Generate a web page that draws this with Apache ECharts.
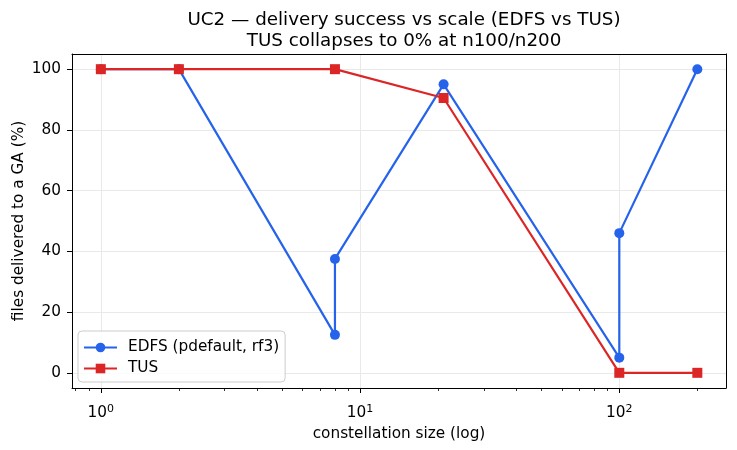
<!DOCTYPE html>
<html>
<head>
<meta charset="utf-8">
<script src="https://cdn.jsdelivr.net/npm/echarts@6/dist/echarts.min.js"></script>
<style>
  html, body { margin: 0; padding: 0; background: #fff; }
  #chart { width: 737px; height: 450px; }
</style>
</head>
<body>
<div id="chart"></div>
<script>
// constellation sizes and delivery success (%)
const edfsX = [1, 2, 8, 8, 21, 100, 100, 200]
const edfsY = [100, 100, 12.5, 37.5, 95, 5, 46, 100]
const tusX = [1, 2, 8, 21, 100, 200]
const tusY = [100, 100, 100, 90.5, 0, 0]

// minor ticks of the log axis
const minorTicks = [0.8, 0.9, 2, 3, 4, 5, 6, 7, 8, 9, 20, 30, 40, 50, 60, 70, 80, 90, 200]

const font = 'DejaVu Sans'
const blue = '#2563eb'
const red = '#dc2626'
const xMin = 0.774
const xMax = 258

let chart = echarts.init(document.getElementById('chart'))

let pairs = (xs, ys) => xs.map((x, i) => [x, ys[i]])

// bare axes that only draw the top and right frame lines
let frameX = {
    type: 'log', min: xMin, max: xMax, position: 'top',
    axisLine: { show: true, onZero: false, lineStyle: { color: '#000', width: 1 } },
    axisTick: { show: false }, axisLabel: { show: false }, splitLine: { show: false }
}
let frameY = {
    type: 'value', min: -5, max: 105, position: 'right',
    axisLine: { show: true, onZero: false, lineStyle: { color: '#000', width: 1 } },
    axisTick: { show: false }, axisLabel: { show: false }, splitLine: { show: false }
}

let option = {
    animation: false,
    title: {
        text: 'UC2 \u2014 delivery success vs scale (EDFS vs TUS)\nTUS collapses to 0% at n100/n200',
        left: 399,
        top: 5,
        textAlign: 'center',
        textStyle: {
            fontFamily: font,
            fontSize: 18.3,
            fontWeight: 'normal',
            color: '#000',
            lineHeight: 21
        }
    },
    grid: {
        left: 72,
        right: 11,
        top: 54,
        bottom: 62,
        show: false
    },
    legend: {
        orient: 'vertical',
        left: 78,
        top: 331,
        padding: [9, 6, 6, 5],
        itemGap: 6,
        itemWidth: 33,
        itemHeight: 12,
        backgroundColor: 'rgba(255,255,255,0.8)',
        borderColor: '#cccccc',
        borderWidth: 1,
        borderRadius: 4,
        textStyle: { fontFamily: font, fontSize: 15.3, color: '#000', padding: [0, 0, 0, 6] },
        data: ['EDFS (pdefault, rf3)', 'TUS']
    },
    xAxis: [{
        type: 'log',
        logBase: 10,
        min: xMin,
        max: xMax,
        name: 'constellation size (log)',
        nameLocation: 'middle',
        nameGap: 39,
        nameMoveOverlap: false,
        nameTextStyle: { fontFamily: font, fontSize: 15.3, color: '#000' },
        axisLine: { show: true, onZero: false, lineStyle: { color: '#000', width: 1 } },
        axisTick: { show: true, length: 5, lineStyle: { color: '#000', width: 1 } },
        axisLabel: {
            showMinLabel: false,
            showMaxLabel: false,
            margin: 17,
            formatter: v => '{b|10}{s|' + Math.round(Math.log10(v)) + '}',
            rich: {
                b: { fontFamily: font, fontSize: 15.3, lineHeight: 15.3, color: '#000', verticalAlign: 'bottom' },
                s: { fontFamily: font, fontSize: 11, lineHeight: 11, color: '#000', verticalAlign: 'bottom', padding: [0, 0, 6, 0] }
            }
        },
        splitLine: { show: true, lineStyle: { color: '#e9e9e9', width: 1 } }
    }, {
        type: 'log',
        logBase: 10,
        min: xMin,
        max: xMax,
        position: 'bottom',
        axisLine: { show: false, onZero: false },
        axisLabel: { show: false },
        splitLine: { show: false },
        axisTick: {
            show: true,
            length: 3,
            customValues: minorTicks,
            lineStyle: { color: '#000', width: 0.8 }
        }
    }, frameX],
    yAxis: [{
        type: 'value',
        min: -5,
        max: 105,
        splitNumber: 5,
        name: 'files delivered to a GA (%)',
        nameLocation: 'middle',
        nameGap: 45,
        nameMoveOverlap: false,
        nameTextStyle: { fontFamily: font, fontSize: 15.3, color: '#000' },
        axisLine: { show: true, onZero: false, lineStyle: { color: '#000', width: 1 } },
        axisTick: { show: true, length: 5, lineStyle: { color: '#000', width: 1 } },
        axisLabel: {
            showMinLabel: false,
            showMaxLabel: false,
            fontFamily: font,
            fontSize: 15.3,
            color: '#000',
            margin: 11
        },
        splitLine: { show: true, lineStyle: { color: '#e9e9e9', width: 1 } }
    }, frameY],
    series: [{
        name: 'EDFS (pdefault, rf3)',
        type: 'line',
        xAxisIndex: 0,
        yAxisIndex: 0,
        data: pairs(edfsX, edfsY),
        symbol: 'circle',
        symbolSize: 10,
        color: blue,
        lineStyle: { width: 2.2, color: blue },
        itemStyle: { color: blue },
        z: 3
    }, {
        name: 'TUS',
        type: 'line',
        xAxisIndex: 0,
        yAxisIndex: 0,
        data: pairs(tusX, tusY),
        symbol: 'rect',
        symbolSize: 10,
        color: red,
        lineStyle: { width: 2.2, color: red },
        itemStyle: { color: red },
        z: 4
    }]
}
chart.setOption(option)
</script>
</body>
</html>
